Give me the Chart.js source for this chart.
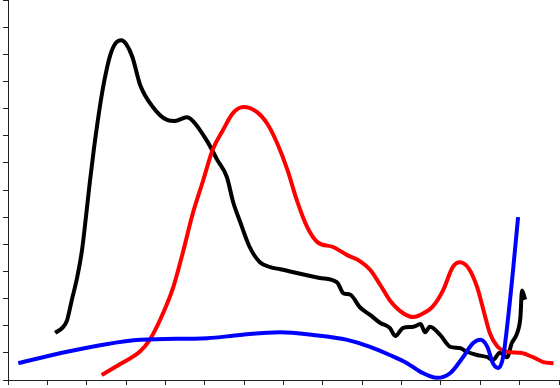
<!DOCTYPE html>
<html>
<head>
<meta charset="utf-8">
<script src="https://cdn.jsdelivr.net/npm/chart.js@4/dist/chart.umd.min.js"></script>
<style>
  html, body { margin: 0; padding: 0; background: #fff; }
  #wrap { width: 560px; height: 388px; }
</style>
</head>
<body>
<div id="wrap"><canvas id="chart"></canvas></div>
<script>
// axis ticks (no labels drawn)
const xTicks = [0, 1, 2, 3, 4, 5, 6, 7];
const yTicks = [0, 1, 2, 3, 4, 5, 6, 7];

// black series
const blackX = [0.60, 0.69, 0.75, 0.81, 0.88, 0.94, 0.99, 1.04, 1.09, 1.17, 1.23, 1.30, 1.37, 1.44, 1.50, 1.58, 1.68, 1.84, 2.02, 2.12, 2.27, 2.35, 2.53, 2.66, 2.78, 2.86, 2.95, 3.07, 3.20, 3.33, 3.46, 3.96, 4.18, 4.26, 4.35, 4.47, 4.60, 4.73, 4.85, 4.92, 5.02, 5.15, 5.24, 5.30, 5.36, 5.49, 5.62, 5.74, 5.83, 5.96, 6.09, 6.16, 6.25, 6.34, 6.40, 6.47, 6.51, 6.53, 6.57];
const blackY = [0.87, 0.96, 1.10, 1.47, 1.90, 2.39, 3.00, 3.65, 4.24, 5.06, 5.56, 5.99, 6.21, 6.26, 6.19, 5.95, 5.43, 5.03, 4.79, 4.77, 4.84, 4.77, 4.40, 4.05, 3.74, 3.28, 2.91, 2.45, 2.17, 2.08, 2.04, 1.88, 1.80, 1.60, 1.57, 1.34, 1.20, 1.05, 0.96, 0.81, 0.96, 0.98, 1.03, 0.88, 0.98, 0.83, 0.61, 0.59, 0.52, 0.46, 0.42, 0.37, 0.50, 0.42, 0.68, 0.87, 1.16, 1.65, 1.48];

// red series
const redX = [1.19, 1.42, 1.68, 1.80, 1.93, 2.10, 2.22, 2.35, 2.48, 2.60, 2.73, 2.86, 2.99, 3.16, 3.29, 3.42, 3.55, 3.67, 3.80, 3.93, 4.13, 4.31, 4.47, 4.60, 4.73, 4.85, 5.02, 5.15, 5.24, 5.40, 5.53, 5.65, 5.74, 5.85, 5.96, 6.04, 6.12, 6.21, 6.34, 6.51, 6.67, 6.80, 6.93];
const redY = [0.09, 0.29, 0.53, 0.74, 1.10, 1.71, 2.34, 3.08, 3.68, 4.24, 4.60, 4.92, 5.03, 4.94, 4.73, 4.36, 3.87, 3.31, 2.82, 2.54, 2.45, 2.30, 2.19, 2.03, 1.75, 1.47, 1.23, 1.16, 1.20, 1.36, 1.66, 2.08, 2.17, 2.06, 1.71, 1.29, 0.87, 0.63, 0.52, 0.50, 0.42, 0.33, 0.31];

// blue series
const blueX = [0.13, 0.75, 1.17, 1.68, 2.53, 2.95, 3.46, 3.88, 4.31, 4.60, 4.85, 5.07, 5.24, 5.45, 5.62, 5.78, 5.91, 6.00, 6.09, 6.16, 6.23, 6.29, 6.35, 6.42, 6.48];
const blueY = [0.31, 0.52, 0.64, 0.74, 0.77, 0.83, 0.88, 0.83, 0.74, 0.61, 0.46, 0.31, 0.15, 0.04, 0.13, 0.42, 0.68, 0.74, 0.61, 0.31, 0.22, 0.42, 1.10, 2.08, 3.00];

function pts(xs, ys) {
    return xs.map((x, i) => ({ x: x, y: ys[i] }));
}

function line(data, color) {
    return {
        data: data,
        borderColor: color,
        borderWidth: 4,
        pointRadius: 0,
        showLine: true,
        fill: false,
        cubicInterpolationMode: 'monotone'
    };
}

const axisStyle = {
    grid: { display: true, drawOnChartArea: false, drawTicks: true, tickLength: 5, color: '#222' },
    border: { display: true, color: '#222', width: 1, dash: [4, 2] },
    ticks: { display: false, stepSize: 0.5 }
};

const ctx = document.getElementById('chart').getContext('2d');
new Chart(ctx, {
    type: 'scatter',
    data: {
        datasets: [
            line(pts(blueX, blueY), '#0000ff'),
            line(pts(redX, redY), '#ff0000'),
            line(pts(blackX, blackY), '#000000')
        ]
    },
    options: {
        responsive: true,
        maintainAspectRatio: false,
        animation: false,
        layout: { padding: { left: 3, bottom: 3, right: 1, top: 0 } },
        plugins: {
            legend: { display: false },
            tooltip: { enabled: false }
        },
        scales: {
            x: Object.assign({ type: 'linear', min: xTicks[0], max: xTicks[xTicks.length - 1] }, axisStyle),
            y: Object.assign({ type: 'linear', min: yTicks[0], max: yTicks[yTicks.length - 1] }, axisStyle)
        }
    }
});
</script>
</body>
</html>
